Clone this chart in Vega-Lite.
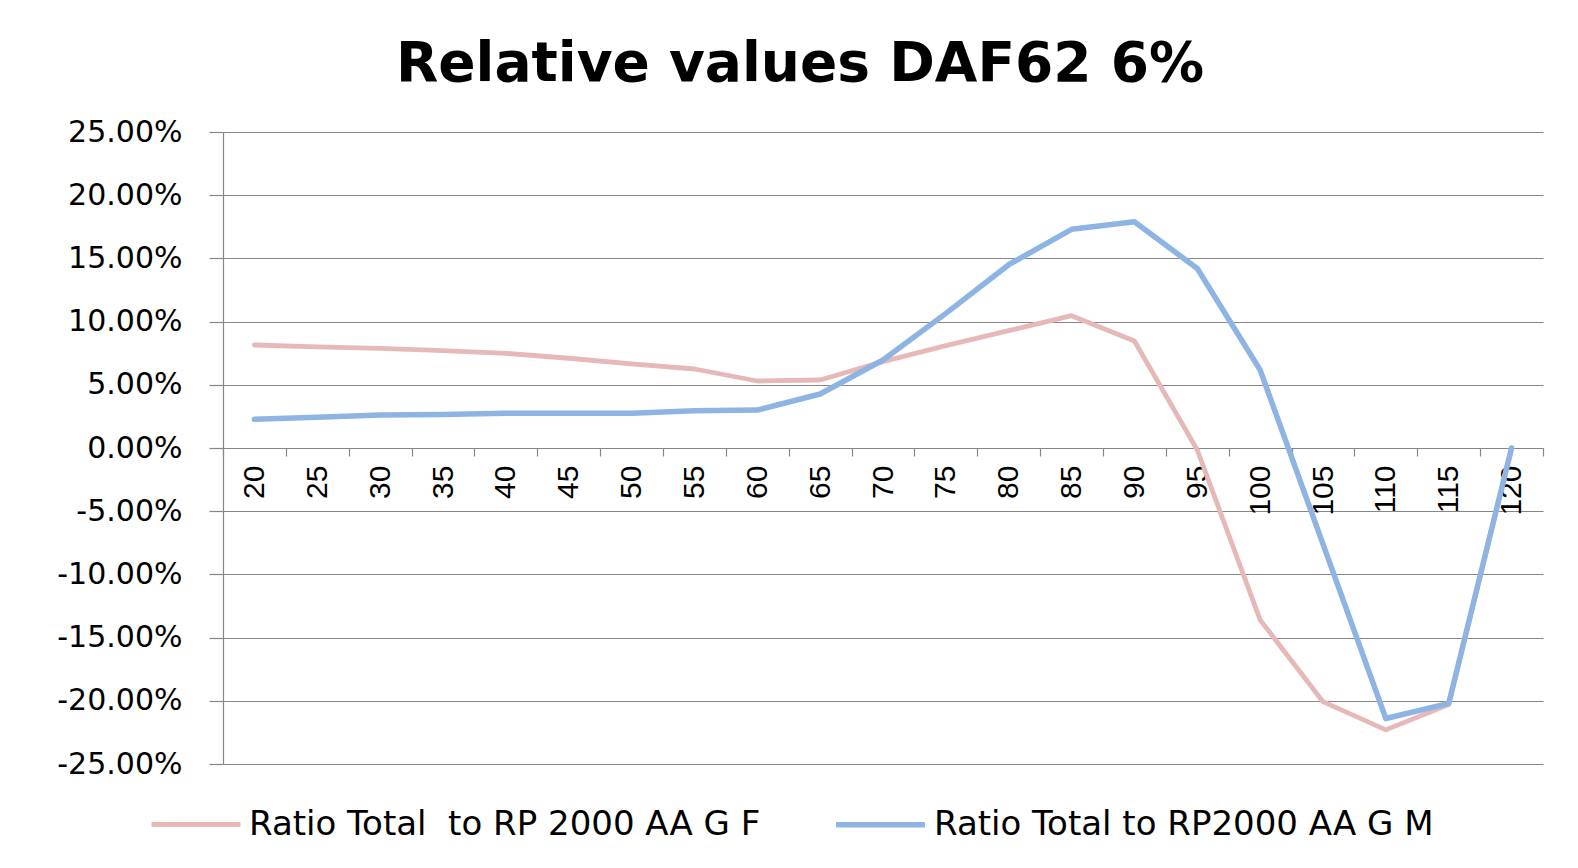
{
  "$schema": "https://vega.github.io/schema/vega-lite/v6.json",
  "width": 1320,
  "height": 632,
  "autosize": {"type": "none"},
  "padding": {"left": 223, "top": 132, "right": 35, "bottom": 104},
  "background": "white",
  "title": {
    "text": "Relative values DAF62 6%",
    "font": "DejaVu Sans",
    "fontSize": 55,
    "fontWeight": "bold",
    "color": "#000000",
    "anchor": "middle",
    "dx": -83,
    "offset": 24
  },
  "data": {
    "values": [
      {"age": 20, "series": "Ratio Total  to RP 2000 AA G F", "value": 0.0815},
      {"age": 25, "series": "Ratio Total  to RP 2000 AA G F", "value": 0.0800},
      {"age": 30, "series": "Ratio Total  to RP 2000 AA G F", "value": 0.0788},
      {"age": 35, "series": "Ratio Total  to RP 2000 AA G F", "value": 0.0770},
      {"age": 40, "series": "Ratio Total  to RP 2000 AA G F", "value": 0.0749},
      {"age": 45, "series": "Ratio Total  to RP 2000 AA G F", "value": 0.0710},
      {"age": 50, "series": "Ratio Total  to RP 2000 AA G F", "value": 0.0665},
      {"age": 55, "series": "Ratio Total  to RP 2000 AA G F", "value": 0.0625},
      {"age": 60, "series": "Ratio Total  to RP 2000 AA G F", "value": 0.0530},
      {"age": 65, "series": "Ratio Total  to RP 2000 AA G F", "value": 0.0538},
      {"age": 70, "series": "Ratio Total  to RP 2000 AA G F", "value": 0.0683},
      {"age": 75, "series": "Ratio Total  to RP 2000 AA G F", "value": 0.0810},
      {"age": 80, "series": "Ratio Total  to RP 2000 AA G F", "value": 0.0928},
      {"age": 85, "series": "Ratio Total  to RP 2000 AA G F", "value": 0.1047},
      {"age": 90, "series": "Ratio Total  to RP 2000 AA G F", "value": 0.0846},
      {"age": 95, "series": "Ratio Total  to RP 2000 AA G F", "value": -0.0016},
      {"age": 100, "series": "Ratio Total  to RP 2000 AA G F", "value": -0.1360},
      {"age": 105, "series": "Ratio Total  to RP 2000 AA G F", "value": -0.2007},
      {"age": 110, "series": "Ratio Total  to RP 2000 AA G F", "value": -0.2230},
      {"age": 115, "series": "Ratio Total  to RP 2000 AA G F", "value": -0.2030},
      {"age": 120, "series": "Ratio Total  to RP 2000 AA G F", "value": 0.0},
      {"age": 20, "series": "Ratio Total to RP2000 AA G M", "value": 0.0227},
      {"age": 25, "series": "Ratio Total to RP2000 AA G M", "value": 0.0243},
      {"age": 30, "series": "Ratio Total to RP2000 AA G M", "value": 0.0261},
      {"age": 35, "series": "Ratio Total to RP2000 AA G M", "value": 0.0266},
      {"age": 40, "series": "Ratio Total to RP2000 AA G M", "value": 0.0274},
      {"age": 45, "series": "Ratio Total to RP2000 AA G M", "value": 0.0274},
      {"age": 50, "series": "Ratio Total to RP2000 AA G M", "value": 0.0274},
      {"age": 55, "series": "Ratio Total to RP2000 AA G M", "value": 0.0295},
      {"age": 60, "series": "Ratio Total to RP2000 AA G M", "value": 0.0300},
      {"age": 65, "series": "Ratio Total to RP2000 AA G M", "value": 0.0427},
      {"age": 70, "series": "Ratio Total to RP2000 AA G M", "value": 0.0696},
      {"age": 75, "series": "Ratio Total to RP2000 AA G M", "value": 0.1065},
      {"age": 80, "series": "Ratio Total to RP2000 AA G M", "value": 0.1450},
      {"age": 85, "series": "Ratio Total to RP2000 AA G M", "value": 0.1730},
      {"age": 90, "series": "Ratio Total to RP2000 AA G M", "value": 0.1790},
      {"age": 95, "series": "Ratio Total to RP2000 AA G M", "value": 0.1420},
      {"age": 100, "series": "Ratio Total to RP2000 AA G M", "value": 0.0617},
      {"age": 105, "series": "Ratio Total to RP2000 AA G M", "value": -0.0760},
      {"age": 110, "series": "Ratio Total to RP2000 AA G M", "value": -0.2140},
      {"age": 115, "series": "Ratio Total to RP2000 AA G M", "value": -0.2020},
      {"age": 120, "series": "Ratio Total to RP2000 AA G M", "value": 0.0}
    ]
  },
  "mark": {"type": "line", "strokeJoin": "round", "strokeCap": "round"},
  "encoding": {
    "x": {
      "field": "age",
      "type": "ordinal",
      "scale": {"type": "band", "paddingInner": 0, "paddingOuter": 0},
      "bandPosition": 0.5,
      "axis": {
        "title": null,
        "orient": "bottom",
        "offset": -316,
        "tickBand": "extent",
        "domainColor": "#868686",
        "domainWidth": 1.2,
        "tickColor": "#868686",
        "tickSize": 8,
        "tickWidth": 1.2,
        "labelAngle": -90,
        "labelAlign": "right",
        "labelBaseline": "middle",
        "labelPadding": 9,
        "labelFont": "Liberation Sans",
        "labelFontSize": 30,
        "labelColor": "#000000",
        "grid": false
      }
    },
    "y": {
      "field": "value",
      "type": "quantitative",
      "scale": {"domain": [-0.25, 0.25], "nice": false, "zero": false},
      "axis": {
        "title": null,
        "values": [-0.25, -0.2, -0.15, -0.1, -0.05, 0, 0.05, 0.1, 0.15, 0.2, 0.25],
        "labelExpr": "replace(format(datum.value, '.2%'), '\u2212', '-')",
        "grid": true,
        "gridColor": "#868686",
        "gridWidth": 1.2,
        "domainColor": "#868686",
        "domainWidth": 1.2,
        "tickColor": "#868686",
        "tickSize": 14,
        "tickWidth": 1.2,
        "labelPadding": 27,
        "labelFont": "DejaVu Sans",
        "labelFontSize": 30,
        "labelColor": "#000000"
      }
    },
    "color": {
      "field": "series",
      "type": "nominal",
      "scale": {
        "domain": ["Ratio Total  to RP 2000 AA G F", "Ratio Total to RP2000 AA G M"],
        "range": ["#E6B9B8", "#8EB4E3"]
      },
      "legend": {
        "title": null,
        "orient": "none",
        "legendX": -74,
        "legendY": 645,
        "direction": "horizontal",
        "symbolType": "stroke",
        "symbolSize": 7900,
        "symbolStrokeWidth": 5,
        "labelExpr": "replace(datum.label, '  ', '\u00a0 ')",
        "labelFont": "DejaVu Sans",
        "labelFontSize": 34,
        "labelColor": "#000000",
        "labelLimit": 0,
        "labelOffset": 6,
        "columnPadding": 64
      }
    },
    "strokeWidth": {
      "field": "series",
      "type": "nominal",
      "scale": {
        "domain": ["Ratio Total  to RP 2000 AA G F", "Ratio Total to RP2000 AA G M"],
        "range": [4.8, 5.5]
      },
      "legend": null
    }
  },
  "config": {"view": {"stroke": null}}
}
